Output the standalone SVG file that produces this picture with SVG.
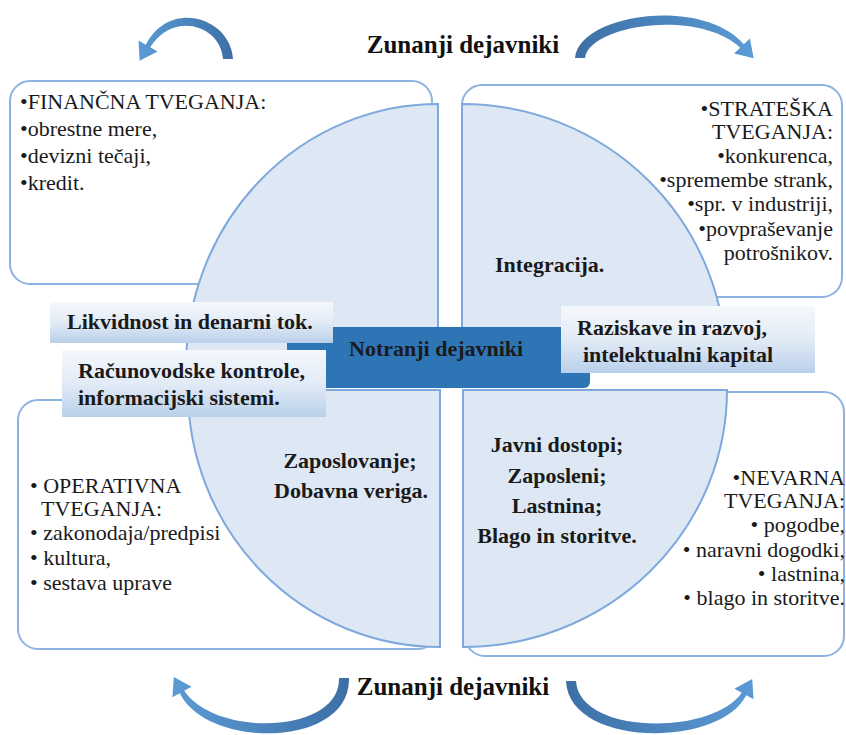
<svg xmlns="http://www.w3.org/2000/svg" width="846" height="735" viewBox="0 0 846 735" font-family="'Liberation Serif', 'Times New Roman', Times, serif">
  <defs>
    <style>
      .box { fill: #ffffff; stroke: #8db3e2; stroke-width: 2; }
      .quad { fill: #dde8f4; stroke: #7fa9dc; stroke-width: 2; }
      .lbl { fill: url(#lblGrad); }
      .reg { font-size: 22px; fill: #1a1a1a; }
      .bold { font-size: 22px; font-weight: bold; fill: #1a1a1a; }
      .ext { font-size: 25px; font-weight: bold; fill: #111111; text-anchor: middle; }
      .end { text-anchor: end; }
      .mid { text-anchor: middle; }
    </style>
    <linearGradient id="lblGrad" x1="0" y1="0" x2="0" y2="1">
      <stop offset="0" stop-color="#f5f8fc"/>
      <stop offset="0.5" stop-color="#e2ebf6"/>
      <stop offset="1" stop-color="#b9d0ea"/>
    </linearGradient>
    <linearGradient id="arrowL" x1="1" y1="0" x2="0" y2="0">
      <stop offset="0" stop-color="#3d6fa6"/>
      <stop offset="1" stop-color="#5b9bd5"/>
    </linearGradient>
    <linearGradient id="arrowR" x1="0" y1="0" x2="1" y2="0">
      <stop offset="0" stop-color="#3d6fa6"/>
      <stop offset="1" stop-color="#5b9bd5"/>
    </linearGradient>
  </defs>

  <!-- outer risk boxes -->
  <g id="box-financial">
    <rect class="box" x="10" y="81" width="422" height="203" rx="20"/>
  </g>
  <g id="box-strategic">
    <rect class="box" x="462" y="85" width="380" height="212" rx="20"/>
  </g>
  <g id="box-operational">
    <rect class="box" x="18" y="400" width="420" height="249" rx="20"/>
  </g>
  <g id="box-hazard">
    <rect class="box" x="465" y="392" width="379" height="264" rx="20"/>
  </g>

  <!-- four quarter segments of the inner circle -->
  <g id="quad-tl">
    <path class="quad" d="M438,366 L438,104 A252,262 0 0 0 186,366 Z"/>
  </g>
  <g id="quad-tr">
    <path class="quad" d="M462,366 L462,104 A264,262 0 0 1 726,366 Z"/>
  </g>
  <g id="quad-bl">
    <path class="quad" d="M440,390 L440,647 A252,257 0 0 1 188,390 Z"/>
  </g>
  <g id="quad-br">
    <path class="quad" d="M463,390 L463,647 A264,257 0 0 0 727,390 Z"/>
  </g>

  <!-- box texts -->
  <g id="txt-financial" class="reg">
    <text x="20" y="109">•FINANČNA TVEGANJA:</text>
    <text x="20" y="136">•obrestne mere,</text>
    <text x="20" y="163">•devizni tečaji,</text>
    <text x="20" y="190">•kredit.</text>
  </g>
  <g id="txt-strategic" class="reg end">
    <text x="833" y="116">•STRATEŠKA</text>
    <text x="833" y="139">TVEGANJA:</text>
    <text x="833" y="163">•konkurenca,</text>
    <text x="833" y="187">•spremembe strank,</text>
    <text x="833" y="211">•spr. v industriji,</text>
    <text x="833" y="236">•povpraševanje</text>
    <text x="833" y="260">potrošnikov.</text>
  </g>
  <g id="txt-operational" class="reg">
    <text x="30" y="493">• OPERATIVNA</text>
    <text x="41" y="516">TVEGANJA:</text>
    <text x="30" y="540">• zakonodaja/predpisi</text>
    <text x="30" y="565">• kultura,</text>
    <text x="30" y="590">• sestava uprave</text>
  </g>
  <g id="txt-hazard" class="reg end">
    <text x="845" y="485">•NEVARNA</text>
    <text x="845" y="508">TVEGANJA:</text>
    <text x="845" y="532">• pogodbe,</text>
    <text x="845" y="557">• naravni dogodki,</text>
    <text x="845" y="581">• lastnina,</text>
    <text x="845" y="605">• blago in storitve.</text>
  </g>

  <!-- quadrant texts -->
  <g id="txt-integration" class="bold">
    <text x="495" y="272">Integracija.</text>
  </g>
  <g id="txt-employment" class="bold mid">
    <text x="350" y="468">Zaposlovanje;</text>
    <text x="351" y="498">Dobavna veriga.</text>
  </g>
  <g id="txt-public" class="bold mid">
    <text x="557" y="452">Javni dostopi;</text>
    <text x="557" y="483">Zaposleni;</text>
    <text x="557" y="513">Lastnina;</text>
    <text x="557" y="543">Blago in storitve.</text>
  </g>

  <!-- centre: internal factors -->
  <g id="internal">
    <rect x="287" y="327" width="303" height="61" rx="6" fill="#2e75b6"/>
    <text class="bold" x="349" y="356">Notranji dejavniki</text>
  </g>
  <g id="liquidity">
    <rect class="lbl" x="50" y="302" width="283" height="41"/>
    <text class="bold" x="67" y="329">Likvidnost in denarni tok.</text>
  </g>
  <g id="accounting">
    <rect class="lbl" x="62" y="350" width="264" height="67"/>
    <text class="bold" x="78" y="378">Računovodske kontrole,</text>
    <text class="bold" x="78" y="405">informacijski sistemi.</text>
  </g>
  <g id="research">
    <rect class="lbl" x="561" y="306" width="254" height="67"/>
    <text class="bold" x="577" y="335">Raziskave in razvoj,</text>
    <text class="bold" x="583" y="362">intelektualni kapital</text>
  </g>

  <!-- external factors labels -->
  <g id="external-top">
    <text class="ext" x="463" y="53">Zunanji dejavniki</text>
  </g>
  <g id="external-bottom">
    <text class="ext" x="453" y="695">Zunanji dejavniki</text>
  </g>

  <!-- curved arrows: tapered shafts with heads -->
  <g id="connectors">
    <path fill="url(#arrowL)" d="M233,59 C231,18 170,-2 145.8,44.8 L138.5,40.5 L139.6,60.8 L157.5,51.5 L150.2,47.2 C174,10 221,26 223,59 Z"/>
    <path fill="url(#arrowR)" d="M575,58 C579,14 702,-4 743.8,44.3 L749.9,38.4 L753.7,58.2 L734.1,53.6 L740.2,47.7 C698,8 589,25 585,58 Z"/>
    <path fill="url(#arrowL)" d="M349,678 C351,748 208,750 179.8,693.2 L172.4,697.3 L173.8,677.1 L191.6,686.7 L184.2,690.8 C216,738 341,734 339,678 Z"/>
    <path fill="url(#arrowR)" d="M566,681 C569,748 720,748 746.2,695.2 L753.6,699.3 L752.2,679.1 L734.4,688.7 L741.8,692.8 C712,736 579,735 576,681 Z"/>
  </g>
</svg>
